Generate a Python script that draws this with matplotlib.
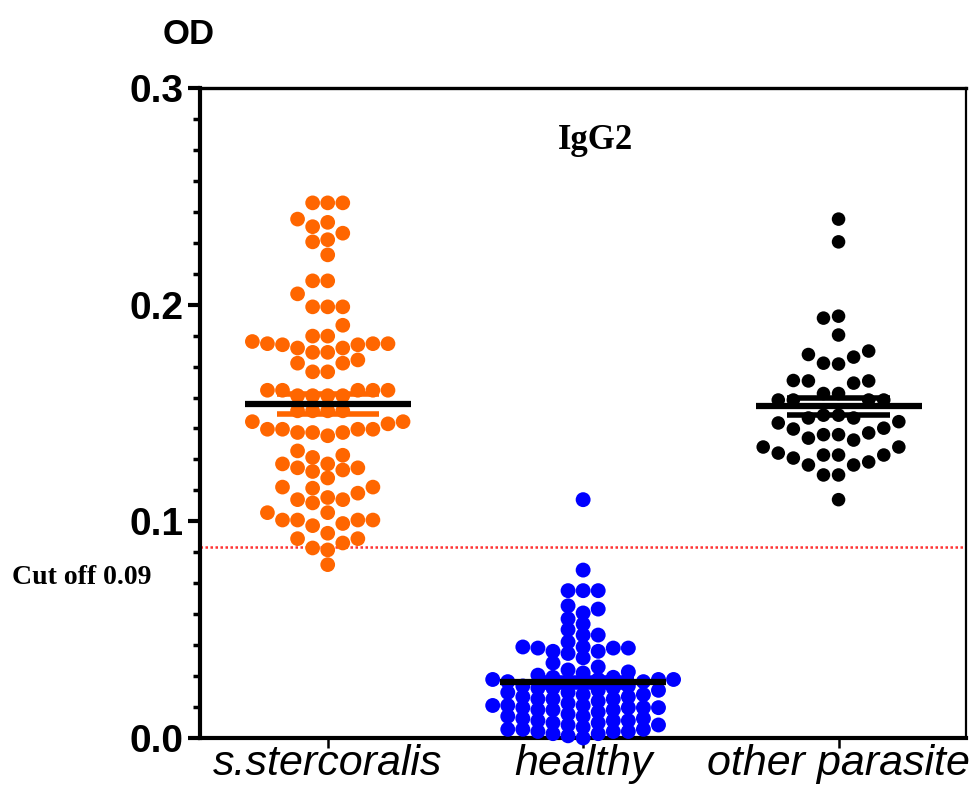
import matplotlib
matplotlib.use("Agg")
import matplotlib.pyplot as plt
import matplotlib.ticker as mticker
import numpy as np

# group labels and colours
groups = ["s.stercoralis", "healthy", "other parasite"]
colors = ["#ff6600", "#0000ff", "#000000"]

# OD values
strongy = [
    0.247, 0.247, 0.247, 0.2395, 0.238, 0.236, 0.233, 0.230, 0.229, 0.223,
    0.211, 0.211, 0.205, 0.199, 0.199, 0.199, 0.1905, 0.1855, 0.1855,
    0.182, 0.180, 0.178, 0.182, 0.1745, 0.169, 0.182, 0.173, 0.183, 0.173,
    0.169, 0.178, 0.180, 0.1815, 0.1815,
    0.1605, 0.1605, 0.1605, 0.1605, 0.1605,
    0.158, 0.158, 0.158, 0.158, 0.151, 0.151, 0.151, 0.151,
    0.146, 0.1425, 0.1425, 0.141, 0.141, 0.1395, 0.141, 0.1425, 0.1425, 0.145, 0.146,
    0.1325, 0.1295, 0.1265, 0.1247, 0.123, 0.1237, 0.1247, 0.1265, 0.1305,
    0.1153, 0.1158, 0.120, 0.1158, 0.113, 0.111,
    0.110, 0.1085, 0.110,
    0.1006, 0.104, 0.099, 0.1006, 0.1006, 0.1006, 0.104, 0.098,
    0.092, 0.092, 0.0945, 0.0877, 0.0868, 0.080, 0.090,
]
healthy = [
    0.110, 0.0775, 0.068, 0.068, 0.068, 0.0595, 0.061, 0.0577, 0.055, 0.0526,
    0.050, 0.0475, 0.0475, 0.0443,
    0.042, 0.039, 0.0415, 0.0415, 0.040, 0.040, 0.0346, 0.042, 0.037, 0.0415,
    0.030, 0.0328, 0.0314, 0.0305, 0.028, 0.029, 0.028,
    0.027, 0.026, 0.027, 0.026, 0.027, 0.026, 0.025, 0.027,
    0.023, 0.023, 0.024, 0.024, 0.022, 0.023,
    0.017, 0.018, 0.018, 0.019, 0.019, 0.020, 0.021, 0.021, 0.022, 0.018, 0.020,
    0.012, 0.013, 0.013, 0.014, 0.014, 0.014, 0.015, 0.015, 0.015, 0.016, 0.013, 0.014,
    0.006, 0.006, 0.007, 0.007, 0.008, 0.008, 0.008, 0.009, 0.009, 0.010, 0.010, 0.011,
    0.0, 0.001, 0.002, 0.002, 0.003, 0.003, 0.003, 0.004, 0.004, 0.004, 0.005,
]
other = [
    0.2395, 0.229, 0.1947, 0.1938, 0.186,
    0.177, 0.173, 0.1726, 0.1758, 0.1786,
    0.1648, 0.1638, 0.165, 0.1648, 0.159, 0.159,
    0.156, 0.156, 0.156, 0.156,
    0.149, 0.146, 0.140, 0.1477, 0.1375, 0.143, 0.1343, 0.1408, 0.1306,
    0.1426, 0.1315, 0.126, 0.1454, 0.1343, 0.1274, 0.1477, 0.1384, 0.1306,
    0.149, 0.140, 0.1306, 0.1292, 0.126, 0.1214, 0.1214, 0.110,
]
data = [strongy, healthy, other]
cutoff = 0.088

# swarm settings per group: vertical gap inside a column, dot area
gaps = [0.0065, 0.0048, 0.0085]
sizes = [112, 115, 95]


def swarm_offsets(values, step, gap):
    # gridded beeswarm: lowest first, try columns 0, -1, 1, -2, 2 ...
    values = np.asarray(values)
    placed = {}
    offs = np.zeros(len(values))
    for i in np.argsort(values, kind="stable"):
        v = values[i]
        k = 0
        done = False
        while not done:
            for col in ([0] if k == 0 else [-k, k]):
                if all(abs(v - u) >= gap for u in placed.get(col, [])):
                    placed.setdefault(col, []).append(v)
                    offs[i] = col * step
                    done = True
                    break
            k += 1
    return offs


fig = plt.figure(figsize=(9.78, 7.96), dpi=100)
ax = fig.add_axes([0.2045, 0.0729, 0.7835, 0.8165])

for i, vals in enumerate(data):
    vals = np.asarray(vals)
    xs = i + swarm_offsets(vals, 0.059, gaps[i])
    ax.scatter(xs, vals, s=sizes[i], color=colors[i], edgecolors="none",
               zorder=3, clip_on=False)
    m = vals.mean()
    sem = vals.std(ddof=1) / np.sqrt(len(vals))
    ax.hlines([m - sem, m + sem], i - 0.2, i + 0.2, colors=colors[i],
              linewidth=4, zorder=4)
    ax.hlines(m, i - 0.325, i + 0.325, colors="black", linewidth=4.5, zorder=5)

ax.axhline(cutoff, color="#ff3333", linewidth=1.8, linestyle=(0, (1, 1)),
           zorder=2)

ax.set_xlim(-0.5, 2.5)
ax.set_ylim(0, 0.3)
ax.set_xticks(range(3))
ax.set_xticklabels(groups, fontstyle="italic", fontsize=31,
                   family="Liberation Sans")
ax.set_yticks([0.0, 0.1, 0.2, 0.3])
ax.yaxis.set_major_formatter(mticker.FormatStrFormatter("%.1f"))
ax.yaxis.set_minor_locator(mticker.MultipleLocator(0.1 / 7))
for lab in ax.get_yticklabels():
    lab.set_fontsize(28)
    lab.set_fontweight("bold")
    lab.set_family("Liberation Sans")

ax.tick_params(axis="y", which="major", length=9, width=3, pad=3)
ax.tick_params(axis="y", which="minor", length=5, width=2.5)
ax.tick_params(axis="x", which="major", length=7, width=1.8, pad=-3)

ax.spines["left"].set_linewidth(3)
ax.spines["bottom"].set_linewidth(3)
ax.spines["top"].set_linewidth(2.4)
ax.spines["right"].set_linewidth(1.6)

ax.text(0.516, 0.92, "IgG2", ha="center", va="center", fontsize=25,
        fontweight="bold", family="Liberation Serif", transform=ax.transAxes)
fig.text(0.193, 0.957, "OD", ha="center", va="center", fontsize=25,
         fontweight="bold", family="Liberation Sans")
fig.text(0.012, 0.274, "Cut off 0.09", ha="left", va="center", fontsize=20,
         fontweight="bold", family="Liberation Serif")

plt.savefig("out.png", dpi=100)
plt.close()
